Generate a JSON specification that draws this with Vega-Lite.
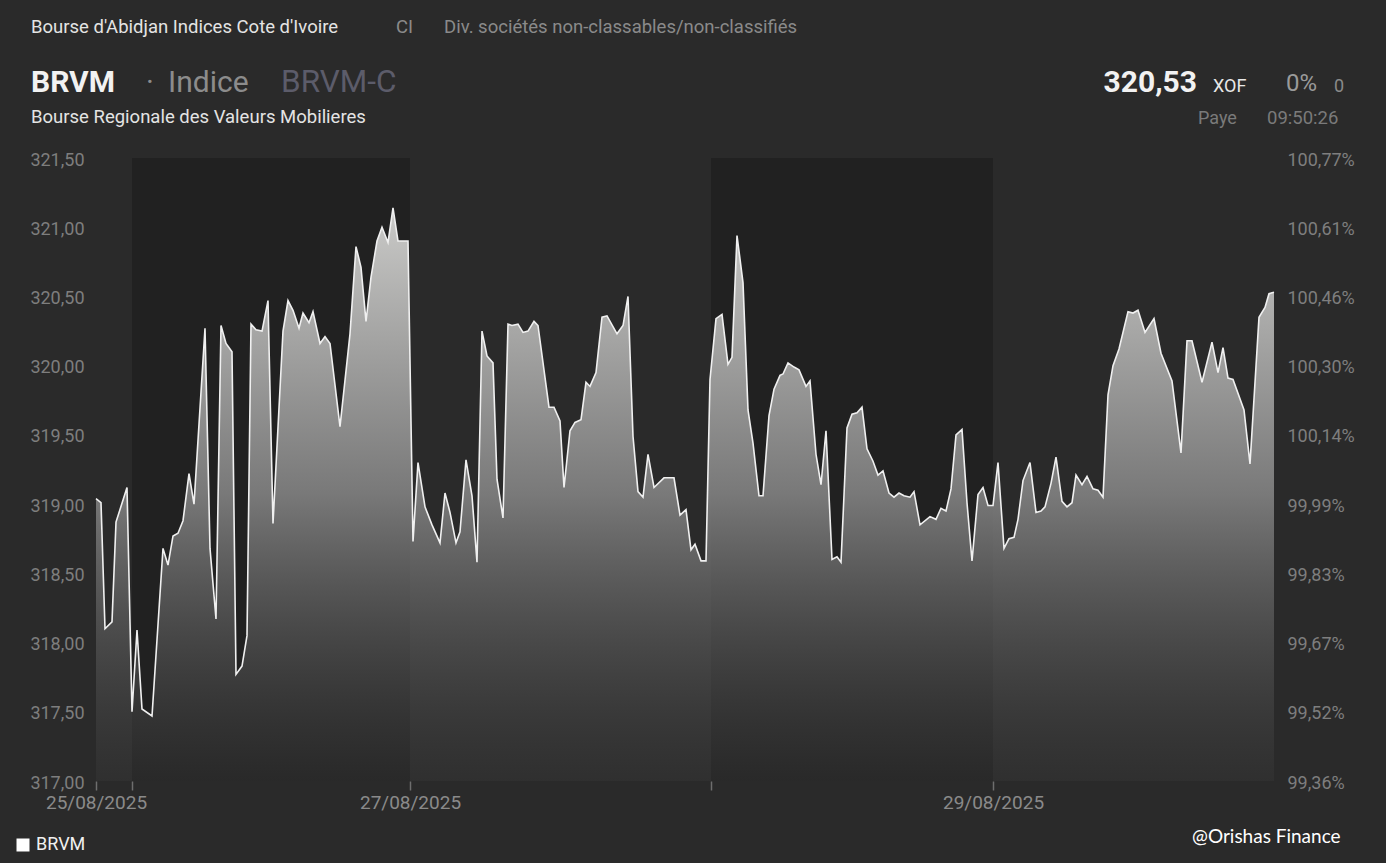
{
  "$schema": "https://vega.github.io/schema/vega-lite/v6.json",
  "width": 1178,
  "height": 623,
  "autosize": {"type": "none"},
  "padding": {"left": 96, "top": 158, "right": 112, "bottom": 82},
  "background": "#2a2a2a",
  "config": {"font": "Roboto", "view": {"stroke": null}},
  "datasets": {
    "brvm": [
      {"t":0,"v":319.04},{"t":5,"v":319.01},{"t":9,"v":318.10},{"t":16,"v":318.15},{"t":20,"v":318.87},{"t":31,"v":319.12},{"t":36,"v":317.50},{"t":41,"v":318.09},{"t":46,"v":317.52},{"t":56,"v":317.47},{"t":67,"v":318.68},{"t":72,"v":318.56},{"t":77,"v":318.77},{"t":82,"v":318.79},{"t":87,"v":318.88},{"t":93,"v":319.22},{"t":98,"v":319.00},{"t":109,"v":320.27},{"t":114,"v":318.68},{"t":120,"v":318.17},{"t":125,"v":320.29},{"t":130,"v":320.16},{"t":136,"v":320.10},{"t":140,"v":317.77},{"t":146,"v":317.83},{"t":151,"v":318.05},{"t":155,"v":320.30},{"t":160,"v":320.26},{"t":166,"v":320.25},{"t":172,"v":320.47},{"t":177,"v":318.86},{"t":187,"v":320.25},{"t":192,"v":320.47},{"t":197,"v":320.40},{"t":203,"v":320.27},{"t":207,"v":320.38},{"t":213,"v":320.31},{"t":217,"v":320.39},{"t":224,"v":320.16},{"t":229,"v":320.21},{"t":234,"v":320.16},{"t":244,"v":319.56},{"t":254,"v":320.23},{"t":260,"v":320.86},{"t":265,"v":320.71},{"t":270,"v":320.32},{"t":275,"v":320.64},{"t":281,"v":320.90},{"t":286,"v":321.00},{"t":292,"v":320.89},{"t":297,"v":321.14},{"t":302,"v":320.90},{"t":312,"v":320.90},
      {"t":317,"v":318.73},{"t":322,"v":319.30},{"t":329,"v":318.98},{"t":336,"v":318.85},{"t":344,"v":318.72},{"t":349,"v":319.08},{"t":354,"v":318.94},{"t":360,"v":318.72},{"t":364,"v":318.80},{"t":370,"v":319.32},{"t":376,"v":319.06},{"t":381,"v":318.58},{"t":386,"v":320.25},{"t":391,"v":320.07},{"t":397,"v":320.02},{"t":401,"v":319.18},{"t":407,"v":318.90},{"t":412,"v":320.30},{"t":416,"v":320.29},{"t":422,"v":320.30},{"t":427,"v":320.24},{"t":432,"v":320.25},{"t":438,"v":320.32},{"t":442,"v":320.29},{"t":453,"v":319.70},{"t":458,"v":319.70},{"t":464,"v":319.60},{"t":468,"v":319.12},{"t":474,"v":319.53},{"t":479,"v":319.59},{"t":485,"v":319.61},{"t":490,"v":319.88},{"t":494,"v":319.85},{"t":500,"v":319.95},{"t":506,"v":320.35},{"t":511,"v":320.36},{"t":521,"v":320.23},{"t":527,"v":320.29},{"t":532,"v":320.50},{"t":537,"v":319.49},{"t":542,"v":319.09},{"t":547,"v":319.05},{"t":552,"v":319.36},{"t":558,"v":319.12},{"t":568,"v":319.19},{"t":578,"v":319.19},{"t":584,"v":318.92},{"t":590,"v":318.96},{"t":595,"v":318.67},{"t":599,"v":318.71},{"t":605,"v":318.59},{"t":610,"v":318.59},
      {"t":614,"v":319.90},{"t":620,"v":320.34},{"t":626,"v":320.37},{"t":632,"v":320.01},{"t":636,"v":320.06},{"t":641,"v":320.94},{"t":647,"v":320.60},{"t":652,"v":319.68},{"t":657,"v":319.44},{"t":663,"v":319.06},{"t":667,"v":319.06},{"t":673,"v":319.64},{"t":678,"v":319.83},{"t":684,"v":319.93},{"t":687,"v":319.94},{"t":692,"v":320.02},{"t":698,"v":319.99},{"t":703,"v":319.97},{"t":710,"v":319.85},{"t":714,"v":319.89},{"t":720,"v":319.36},{"t":725,"v":319.14},{"t":730,"v":319.53},{"t":736,"v":318.60},{"t":741,"v":318.62},{"t":745,"v":318.58},{"t":751,"v":319.55},{"t":756,"v":319.65},{"t":761,"v":319.66},{"t":766,"v":319.70},{"t":771,"v":319.40},{"t":777,"v":319.31},{"t":782,"v":319.21},{"t":787,"v":319.24},{"t":793,"v":319.08},{"t":798,"v":319.05},{"t":803,"v":319.08},{"t":808,"v":319.06},{"t":814,"v":319.05},{"t":818,"v":319.09},{"t":824,"v":318.85},{"t":834,"v":318.91},{"t":840,"v":318.89},{"t":845,"v":318.97},{"t":850,"v":318.95},{"t":855,"v":319.11},{"t":860,"v":319.50},{"t":866,"v":319.54},{"t":871,"v":319.01},{"t":876,"v":318.59},{"t":882,"v":319.07},{"t":887,"v":319.12},{"t":892,"v":318.99},{"t":897,"v":318.99},{"t":902,"v":319.30},
      {"t":908,"v":318.68},{"t":913,"v":318.75},{"t":918,"v":318.76},{"t":922,"v":318.89},{"t":927,"v":319.17},{"t":934,"v":319.30},{"t":940,"v":318.94},{"t":945,"v":318.95},{"t":949,"v":318.98},{"t":955,"v":319.15},{"t":960,"v":319.34},{"t":966,"v":319.02},{"t":971,"v":318.98},{"t":976,"v":319.01},{"t":980,"v":319.21},{"t":986,"v":319.14},{"t":991,"v":319.20},{"t":997,"v":319.11},{"t":1002,"v":319.10},{"t":1007,"v":319.05},{"t":1012,"v":319.79},{"t":1017,"v":320.00},{"t":1023,"v":320.12},{"t":1032,"v":320.39},{"t":1037,"v":320.38},{"t":1042,"v":320.40},{"t":1049,"v":320.24},{"t":1058,"v":320.34},{"t":1065,"v":320.09},{"t":1076,"v":319.89},{"t":1085,"v":319.37},{"t":1091,"v":320.18},{"t":1096,"v":320.18},{"t":1106,"v":319.88},{"t":1116,"v":320.17},{"t":1122,"v":319.95},{"t":1127,"v":320.13},{"t":1132,"v":319.91},{"t":1137,"v":319.90},{"t":1148,"v":319.68},{"t":1154,"v":319.29},{"t":1163,"v":320.35},{"t":1169,"v":320.42},{"t":1173,"v":320.52},{"t":1178,"v":320.53}
    ],
    "days": [{"start": 36, "end": 314}, {"start": 615, "end": 897}]
  },
  "layer": [
    {
      "data": {"name": "days"},
      "mark": {"type": "rect", "color": "#212121"},
      "encoding": {
        "x": {
          "field": "start", "type": "quantitative",
          "scale": {"domain": [0, 1178], "nice": false, "zero": false},
          "axis": {
            "title": null, "values": [0, 36, 314, 615, 897],
            "labelExpr": "datum.value == 0 ? '25/08/2025' : datum.value == 314 ? '27/08/2025' : datum.value == 897 ? '29/08/2025' : ''",
            "grid": false, "domain": false, "ticks": true, "tickColor": "#6e6e6e", "tickSize": 9, "tickWidth": 1.5,
            "labelColor": "#8a8a8a", "labelFontSize": 19, "labelPadding": 3, "labelFlush": false, "labelOverlap": false
          }
        },
        "x2": {"field": "end"}
      }
    },
    {
      "data": {"name": "brvm"},
      "mark": {
        "type": "area",
        "interpolate": "linear",
        "clip": true,
        "color": {
          "gradient": "linear", "x1": 0, "y1": 0, "x2": 0, "y2": 1,
          "stops": [
            {"offset": 0, "color": "rgba(206,206,204,0.98)"},
            {"offset": 0.5, "color": "rgba(128,128,128,0.92)"},
            {"offset": 1, "color": "rgba(60,60,60,0.3)"}
          ]
        }
      },
      "encoding": {
        "x": {"field": "t", "type": "quantitative"},
        "y": {
          "field": "v", "type": "quantitative",
          "scale": {"domain": [317, 321.5], "nice": false, "zero": false},
          "axis": {
            "title": null, "orient": "left",
            "values": [317, 317.5, 318, 318.5, 319, 319.5, 320, 320.5, 321, 321.5],
            "labelExpr": "replace(format(datum.value, '.2f'), '.', ',')",
            "grid": false, "domain": false, "ticks": false, "tickSize": 0,
            "labelColor": "#7e7e7e", "labelFontSize": 18, "labelPadding": 12, "labelBaseline": "middle", "labelOffset": 2
          }
        },
        "y2": {"datum": 317}
      }
    },
    {
      "data": {"name": "brvm"},
      "mark": {"type": "line", "interpolate": "linear", "strokeWidth": 1.6},
      "encoding": {
        "x": {"field": "t", "type": "quantitative"},
        "y": {
          "field": "v", "type": "quantitative",
          "axis": {
            "title": null, "orient": "right",
            "values": [317, 317.5, 318, 318.5, 319, 319.5, 320, 320.5, 321, 321.5],
            "labelExpr": "replace(format(datum.value / 319.04 * 100, '.2f'), '.', ',') + '%'",
            "grid": false, "domain": false, "ticks": false, "tickSize": 0,
            "labelColor": "#7e7e7e", "labelFontSize": 18, "labelPadding": 13, "labelBaseline": "middle", "labelOffset": 2
          }
        },
        "color": {
          "datum": "BRVM", "type": "nominal",
          "scale": {"range": ["#f0f0f0"]},
          "legend": {
            "orient": "none", "legendX": -82, "legendY": 678, "title": null, "padding": 0,
            "symbolType": "square", "symbolSize": 169, "symbolFillColor": "#ffffff", "symbolStrokeColor": "#ffffff", "symbolStrokeWidth": 0,
            "labelColor": "#f0f0f0", "labelFontSize": 18, "labelOffset": 4
          }
        }
      }
    },
    {"data": {"values": [{}]}, "mark": {"type": "text", "text": "Bourse d'Abidjan Indices Cote d'Ivoire", "align": "left", "baseline": "alphabetic", "fontSize": 18.5, "color": "#e4e4e4"},
     "encoding": {"x": {"datum": -65, "type": "quantitative"}, "y": {"datum": 322.4, "type": "quantitative", "axis": null}}},
    {"data": {"values": [{}]}, "mark": {"type": "text", "text": "CI", "align": "left", "baseline": "alphabetic", "fontSize": 18.5, "color": "#8a8a8a"},
     "encoding": {"x": {"datum": 300, "type": "quantitative"}, "y": {"datum": 322.4, "type": "quantitative", "axis": null}}},
    {"data": {"values": [{}]}, "mark": {"type": "text", "text": "Div. sociétés non-classables/non-classifiés", "align": "left", "baseline": "alphabetic", "fontSize": 18.5, "color": "#8a8a8a"},
     "encoding": {"x": {"datum": 348, "type": "quantitative"}, "y": {"datum": 322.4, "type": "quantitative", "axis": null}}},
    {"data": {"values": [{}]}, "mark": {"type": "text", "text": "BRVM", "align": "left", "baseline": "alphabetic", "fontSize": 30, "fontWeight": "bold", "color": "#f2f2f2"},
     "encoding": {"x": {"datum": -65, "type": "quantitative"}, "y": {"datum": 321.98, "type": "quantitative", "axis": null}}},
    {"data": {"values": [{}]}, "mark": {"type": "text", "text": "·", "align": "center", "baseline": "alphabetic", "fontSize": 30, "color": "#8c8c8c"},
     "encoding": {"x": {"datum": 54, "type": "quantitative"}, "y": {"datum": 321.98, "type": "quantitative", "axis": null}}},
    {"data": {"values": [{}]}, "mark": {"type": "text", "text": "Indice", "align": "left", "baseline": "alphabetic", "fontSize": 30, "color": "#8c8c8c"},
     "encoding": {"x": {"datum": 72, "type": "quantitative"}, "y": {"datum": 321.98, "type": "quantitative", "axis": null}}},
    {"data": {"values": [{}]}, "mark": {"type": "text", "text": "BRVM-C", "align": "left", "baseline": "alphabetic", "fontSize": 31.5, "color": "#5c5c6a"},
     "encoding": {"x": {"datum": 185, "type": "quantitative"}, "y": {"datum": 321.98, "type": "quantitative", "axis": null}}},
    {"data": {"values": [{}]}, "mark": {"type": "text", "text": "Bourse Regionale des Valeurs Mobilieres", "align": "left", "baseline": "alphabetic", "fontSize": 18.5, "color": "#e4e4e4"},
     "encoding": {"x": {"datum": -65, "type": "quantitative"}, "y": {"datum": 321.75, "type": "quantitative", "axis": null}}},
    {"data": {"values": [{}]}, "mark": {"type": "text", "text": "320,53", "align": "right", "baseline": "alphabetic", "fontSize": 30, "fontWeight": "bold", "color": "#f2f2f2"},
     "encoding": {"x": {"datum": 1101, "type": "quantitative"}, "y": {"datum": 321.98, "type": "quantitative", "axis": null}}},
    {"data": {"values": [{}]}, "mark": {"type": "text", "text": "XOF", "align": "left", "baseline": "alphabetic", "fontSize": 18, "color": "#e8e8e8"},
     "encoding": {"x": {"datum": 1117, "type": "quantitative"}, "y": {"datum": 321.98, "type": "quantitative", "axis": null}}},
    {"data": {"values": [{}]}, "mark": {"type": "text", "text": "0%", "align": "left", "baseline": "alphabetic", "fontSize": 24, "color": "#9a9a9a"},
     "encoding": {"x": {"datum": 1190, "type": "quantitative"}, "y": {"datum": 321.985, "type": "quantitative", "axis": null}}},
    {"data": {"values": [{}]}, "mark": {"type": "text", "text": "0", "align": "left", "baseline": "alphabetic", "fontSize": 18, "color": "#8a8a8a"},
     "encoding": {"x": {"datum": 1238, "type": "quantitative"}, "y": {"datum": 321.975, "type": "quantitative", "axis": null}}},
    {"data": {"values": [{}]}, "mark": {"type": "text", "text": "Paye", "align": "left", "baseline": "alphabetic", "fontSize": 18, "color": "#7a7a7a"},
     "encoding": {"x": {"datum": 1102, "type": "quantitative"}, "y": {"datum": 321.745, "type": "quantitative", "axis": null}}},
    {"data": {"values": [{}]}, "mark": {"type": "text", "text": "09:50:26", "align": "left", "baseline": "alphabetic", "fontSize": 18.5, "color": "#7a7a7a"},
     "encoding": {"x": {"datum": 1171, "type": "quantitative"}, "y": {"datum": 321.745, "type": "quantitative", "axis": null}}},
    {"data": {"values": [{}]}, "mark": {"type": "text", "text": "@Orishas Finance", "align": "left", "baseline": "alphabetic", "fontSize": 19, "font": "Lato", "color": "#ffffff"},
     "encoding": {"x": {"datum": 1096, "type": "quantitative"}, "y": {"datum": 316.555, "type": "quantitative", "axis": null}}}
  ],
  "resolve": {"scale": {"y": "shared", "x": "shared"}, "axis": {"y": "independent"}}
}
